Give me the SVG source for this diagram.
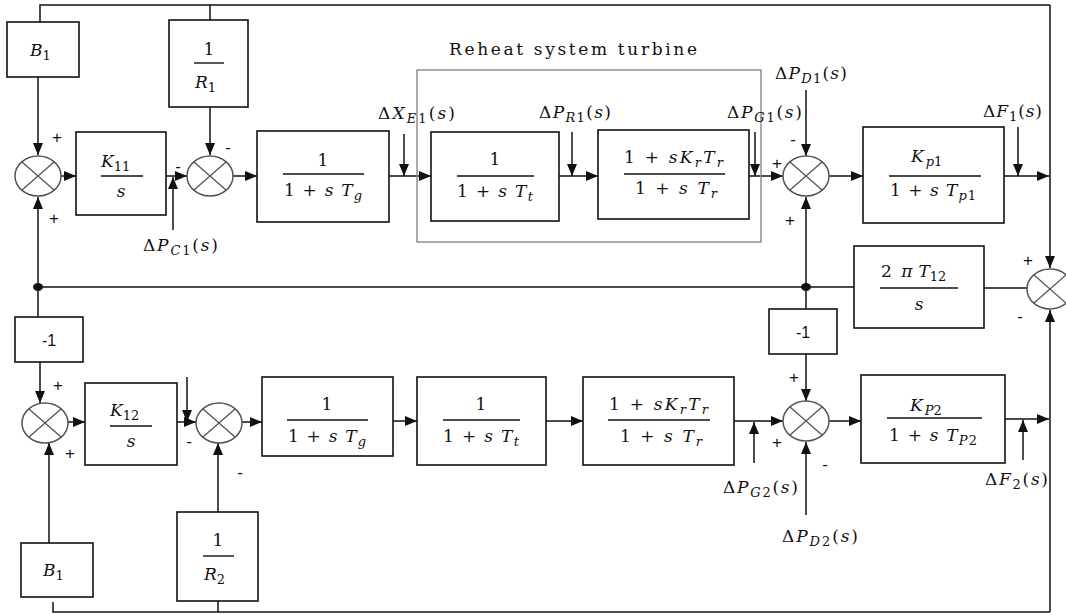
<svg xmlns="http://www.w3.org/2000/svg" width="1066" height="615" viewBox="0 0 1066 615">
<style>
.b{fill:#fff;stroke:#111;stroke-width:1.6}
.rh{fill:none;stroke:#888;stroke-width:1.4}
.w{fill:none;stroke:#111;stroke-width:1.5}
.sum{fill:#fff;stroke:#555;stroke-width:1.5}
.x{stroke:#555;stroke-width:1.3}
.fl{stroke:#111;stroke-width:1.4}
text{font-family:"DejaVu Serif","Liberation Serif",serif;font-size:17px;fill:#111}
.i{font-style:italic}
.sg{font-family:"Liberation Sans","DejaVu Sans",sans-serif;font-size:17px}
.m1{font-family:"Liberation Sans","DejaVu Sans",sans-serif;font-size:16px}
.sub{font-size:13px}
</style>
<defs>
<marker id="a" viewBox="0 0 12 10" refX="12" refY="5" markerWidth="12" markerHeight="10" markerUnits="userSpaceOnUse" orient="auto"><path d="M0,0 L12,5 L0,10 z" fill="#111"/></marker>
<g id="sj"><ellipse class="sum" cx="0" cy="0" rx="23" ry="20"/><line class="x" x1="-16" y1="-14" x2="16" y2="14"/><line class="x" x1="-16" y1="14" x2="16" y2="-14"/></g>
</defs>

<g id="connectors">
<path class="w" d="M40,22 V5 H1050 M210,20 V5"/>
<path class="w" d="M1050,5 V268" marker-end="url(#a)"/>
<path class="w" d="M38,77 V155" marker-end="url(#a)"/>
<path class="w" d="M61,176 H76" marker-end="url(#a)"/>
<path class="w" d="M166,176 H187" marker-end="url(#a)"/>
<path class="w" d="M210,107 V155" marker-end="url(#a)"/>
<path class="w" d="M173,230 V177" marker-end="url(#a)"/>
<path class="w" d="M233,176 H257" marker-end="url(#a)"/>
<path class="w" d="M389,176 H431" marker-end="url(#a)"/>
<path class="w" d="M404,134 V176" marker-end="url(#a)"/>
<path class="w" d="M559,176 H598" marker-end="url(#a)"/>
<path class="w" d="M572,132 V176" marker-end="url(#a)"/>
<path class="w" d="M749,176 H783" marker-end="url(#a)"/>
<path class="w" d="M755,132 V176" marker-end="url(#a)"/>
<path class="w" d="M806,90 V156" marker-end="url(#a)"/>
<path class="w" d="M829,176 H863" marker-end="url(#a)"/>
<path class="w" d="M1004,176 H1049" marker-end="url(#a)"/>
<path class="w" d="M1018,127 V176" marker-end="url(#a)"/>
<path class="w" d="M38,287 V197" marker-end="url(#a)"/>
<path class="w" d="M38,287 H854"/>
<path class="w" d="M806,287 V197" marker-end="url(#a)"/>
<path class="w" d="M984,288 H1027"/>
<path class="w" d="M1050,612 V310" marker-end="url(#a)"/>
<path class="w" d="M38,287 V317"/>
<path class="w" d="M40,362 V403" marker-end="url(#a)"/>
<path class="w" d="M68,422 H85" marker-end="url(#a)"/>
<path class="w" d="M177,422 H196" marker-end="url(#a)"/>
<path class="w" d="M187,377 V422" marker-end="url(#a)"/>
<path class="w" d="M242,422 H262" marker-end="url(#a)"/>
<path class="w" d="M393,421 H417" marker-end="url(#a)"/>
<path class="w" d="M546,421 H583" marker-end="url(#a)"/>
<path class="w" d="M734,421 H783" marker-end="url(#a)"/>
<path class="w" d="M754,463 V422" marker-end="url(#a)"/>
<path class="w" d="M806,287 V309"/>
<path class="w" d="M806,354 V401" marker-end="url(#a)"/>
<path class="w" d="M806,515 V442" marker-end="url(#a)"/>
<path class="w" d="M829,421 H861" marker-end="url(#a)"/>
<path class="w" d="M1005,419 H1049" marker-end="url(#a)"/>
<path class="w" d="M1023,460 V420" marker-end="url(#a)"/>
<path class="w" d="M49,543 V443" marker-end="url(#a)"/>
<path class="w" d="M218,512 V443" marker-end="url(#a)"/>
<path class="w" d="M53,602 V612 H1050 M218,601 V612"/>
<ellipse cx="38" cy="287" rx="5" ry="4" fill="#111"/>
<ellipse cx="806" cy="287" rx="5" ry="4" fill="#111"/>
</g>

<g id="reheat">
<rect class="rh" x="417" y="70" width="344" height="172"/>
<text x="449" y="55" textLength="248" lengthAdjust="spacing">Reheat system turbine</text>
</g>

<g id="B1top"><rect class="b" x="7" y="22" width="72" height="55"/><text x="30" y="56"><tspan class="i">B</tspan><tspan class="sub" dy="4">1</tspan></text></g>
<g id="invR1"><rect class="b" x="169" y="20" width="79" height="87"/><text x="209" y="55" text-anchor="middle">1</text><line class="fl" x1="194" y1="63" x2="224" y2="63"/><text x="195" y="88"><tspan class="i">R</tspan><tspan class="sub" dy="4">1</tspan></text></g>
<g id="sum1"><use href="#sj" x="38" y="176"/></g>
<g id="K11"><rect class="b" x="76" y="132" width="90" height="83"/><text x="101" y="167"><tspan class="i">K</tspan><tspan class="sub" dy="4">11</tspan></text><line class="fl" x1="101" y1="176" x2="143" y2="176"/><text x="121" y="197" text-anchor="middle" class="i">s</text></g>
<g id="sum2"><use href="#sj" x="210" y="176"/></g>
<g id="Tg1"><rect class="b" x="257" y="131" width="132" height="91"/><text x="323" y="166" text-anchor="middle">1</text><line class="fl" x1="283" y1="174" x2="364" y2="174"/><text x="284" y="196" textLength="78" lengthAdjust="spacing">1 + <tspan class="i">s T</tspan><tspan class="i sub" dy="4">g</tspan></text></g>
<g id="Tt1"><rect class="b" x="431" y="132" width="128" height="89"/><text x="495" y="165" text-anchor="middle">1</text><line class="fl" x1="457" y1="176" x2="534" y2="176"/><text x="457" y="197" textLength="76" lengthAdjust="spacing">1 + <tspan class="i">s T</tspan><tspan class="i sub" dy="4">t</tspan></text></g>
<g id="Tr1"><rect class="b" x="598" y="130" width="151" height="89"/><text x="624" y="163" textLength="99" lengthAdjust="spacing">1 + <tspan class="i">sK</tspan><tspan class="i sub" dy="4">r</tspan><tspan class="i" dy="-4">T</tspan><tspan class="i sub" dy="4">r</tspan></text><line class="fl" x1="624" y1="174" x2="725" y2="174"/><text x="635" y="194" textLength="82" lengthAdjust="spacing">1 + <tspan class="i">s T</tspan><tspan class="i sub" dy="4">r</tspan></text></g>
<g id="sum3"><use href="#sj" x="806" y="176"/></g>
<g id="Kp1"><rect class="b" x="863" y="127" width="141" height="96"/><text x="911" y="162"><tspan class="i">K</tspan><tspan class="sub" dy="4" dx="2"><tspan class="i">p</tspan>1</tspan></text><line class="fl" x1="889" y1="176" x2="981" y2="176"/><text x="890" y="196" textLength="86" lengthAdjust="spacing">1 + <tspan class="i">s T</tspan><tspan class="sub" dy="4"><tspan class="i">p</tspan>1</tspan></text></g>
<g id="tie"><rect class="b" x="854" y="246" width="130" height="82"/><text x="881" y="277">2 <tspan class="i" dx="4">π</tspan><tspan class="i" dx="6">T</tspan><tspan class="sub" dy="4">12</tspan></text><line class="fl" x1="880" y1="288" x2="958" y2="288"/><text x="919" y="310" text-anchor="middle" class="i">s</text></g>
<g id="sum7"><use href="#sj" x="1050" y="289"/></g>

<g id="neg1L"><rect class="b" x="15" y="317" width="68" height="45"/><text class="m1" x="49" y="346" text-anchor="middle">-1</text></g>
<g id="sum4"><use href="#sj" x="45" y="423"/></g>
<g id="K12"><rect class="b" x="85" y="383" width="92" height="82"/><text x="110" y="416"><tspan class="i">K</tspan><tspan class="sub" dy="4">12</tspan></text><line class="fl" x1="110" y1="426" x2="152" y2="426"/><text x="131" y="447" text-anchor="middle" class="i">s</text></g>
<g id="sum5"><use href="#sj" x="219" y="423"/></g>
<g id="Tg2"><rect class="b" x="262" y="377" width="131" height="79"/><text x="327" y="410" text-anchor="middle">1</text><line class="fl" x1="287" y1="420" x2="368" y2="420"/><text x="288" y="442" textLength="78" lengthAdjust="spacing">1 + <tspan class="i">s T</tspan><tspan class="i sub" dy="4">g</tspan></text></g>
<g id="Tt2"><rect class="b" x="417" y="377" width="129" height="88"/><text x="481" y="410" text-anchor="middle">1</text><line class="fl" x1="443" y1="420" x2="520" y2="420"/><text x="443" y="442" textLength="76" lengthAdjust="spacing">1 + <tspan class="i">s T</tspan><tspan class="i sub" dy="4">t</tspan></text></g>
<g id="Tr2"><rect class="b" x="583" y="377" width="151" height="88"/><text x="609" y="410" textLength="99" lengthAdjust="spacing">1 + <tspan class="i">sK</tspan><tspan class="i sub" dy="4">r</tspan><tspan class="i" dy="-4">T</tspan><tspan class="i sub" dy="4">r</tspan></text><line class="fl" x1="608" y1="420" x2="710" y2="420"/><text x="620" y="442" textLength="82" lengthAdjust="spacing">1 + <tspan class="i">s T</tspan><tspan class="i sub" dy="4">r</tspan></text></g>
<g id="neg1R"><rect class="b" x="769" y="309" width="68" height="45"/><text class="m1" x="803" y="338" text-anchor="middle">-1</text></g>
<g id="sum6"><use href="#sj" x="806" y="421"/></g>
<g id="Kp2"><rect class="b" x="861" y="375" width="144" height="88"/><text x="910" y="411"><tspan class="i">K</tspan><tspan class="sub" dy="4" dx="2"><tspan class="i">P</tspan>2</tspan></text><line class="fl" x1="887" y1="418" x2="982" y2="418"/><text x="889" y="441" textLength="88" lengthAdjust="spacing">1 + <tspan class="i">s T</tspan><tspan class="sub" dy="4"><tspan class="i">P</tspan>2</tspan></text></g>
<g id="B1bot"><rect class="b" x="21" y="543" width="72" height="54"/><text x="43" y="576"><tspan class="i">B</tspan><tspan class="sub" dy="4">1</tspan></text></g>
<g id="invR2"><rect class="b" x="177" y="512" width="81" height="89"/><text x="218" y="546" text-anchor="middle">1</text><line class="fl" x1="203" y1="556" x2="234" y2="556"/><text x="204" y="580"><tspan class="i">R</tspan><tspan class="sub" dy="4">2</tspan></text></g>

<g id="labels">
<text x="143" y="251" textLength="75" lengthAdjust="spacing">Δ<tspan class="i">P</tspan><tspan class="sub" dy="4"><tspan class="i">C</tspan>1</tspan><tspan dy="-4">(</tspan><tspan class="i">s</tspan>)</text>
<text x="378" y="119" textLength="77" lengthAdjust="spacing">Δ<tspan class="i">X</tspan><tspan class="sub" dy="4"><tspan class="i">E</tspan>1</tspan><tspan dy="-4">(</tspan><tspan class="i">s</tspan>)</text>
<text x="539" y="118" textLength="72" lengthAdjust="spacing">Δ<tspan class="i">P</tspan><tspan class="sub" dy="4"><tspan class="i">R</tspan>1</tspan><tspan dy="-4">(</tspan><tspan class="i">s</tspan>)</text>
<text x="727" y="118" textLength="75" lengthAdjust="spacing">Δ<tspan class="i">P</tspan><tspan class="sub" dy="4"><tspan class="i">G</tspan>1</tspan><tspan dy="-4">(</tspan><tspan class="i">s</tspan>)</text>
<text x="775" y="79" textLength="72" lengthAdjust="spacing">Δ<tspan class="i">P</tspan><tspan class="sub" dy="4"><tspan class="i">D</tspan>1</tspan><tspan dy="-4">(</tspan><tspan class="i">s</tspan>)</text>
<text x="983" y="117" textLength="59" lengthAdjust="spacing">Δ<tspan class="i">F</tspan><tspan class="sub" dy="4">1</tspan><tspan dy="-4">(</tspan><tspan class="i">s</tspan>)</text>
<text x="723" y="493" textLength="75" lengthAdjust="spacing">Δ<tspan class="i">P</tspan><tspan class="sub" dy="4"><tspan class="i">G</tspan>2</tspan><tspan dy="-4">(</tspan><tspan class="i">s</tspan>)</text>
<text x="782" y="542" textLength="76" lengthAdjust="spacing">Δ<tspan class="i">P</tspan><tspan class="sub" dy="4"><tspan class="i">D</tspan>2</tspan><tspan dy="-4">(</tspan><tspan class="i">s</tspan>)</text>
<text x="985" y="485" textLength="63" lengthAdjust="spacing">Δ<tspan class="i">F</tspan><tspan class="sub" dy="4">2</tspan><tspan dy="-4">(</tspan><tspan class="i">s</tspan>)</text>
</g>

<g id="signs">
<text class="sg" x="57" y="143" text-anchor="middle">+</text>
<text class="sg" x="54" y="224" text-anchor="middle">+</text>
<text class="sg" x="178" y="172" text-anchor="middle">-</text>
<text class="sg" x="228" y="153" text-anchor="middle">-</text>
<text class="sg" x="777" y="169" text-anchor="middle">+</text>
<text class="sg" x="793" y="145" text-anchor="middle">-</text>
<text class="sg" x="790" y="226" text-anchor="middle">+</text>
<text class="sg" x="1028" y="266" text-anchor="middle">+</text>
<text class="sg" x="1020" y="322" text-anchor="middle">-</text>
<text class="sg" x="58" y="391" text-anchor="middle">+</text>
<text class="sg" x="70" y="459" text-anchor="middle">+</text>
<text class="sg" x="189" y="447" text-anchor="middle">-</text>
<text class="sg" x="240" y="478" text-anchor="middle">-</text>
<text class="sg" x="794" y="383" text-anchor="middle">+</text>
<text class="sg" x="777" y="448" text-anchor="middle">+</text>
<text class="sg" x="825" y="470" text-anchor="middle">-</text>
</g>
</svg>
